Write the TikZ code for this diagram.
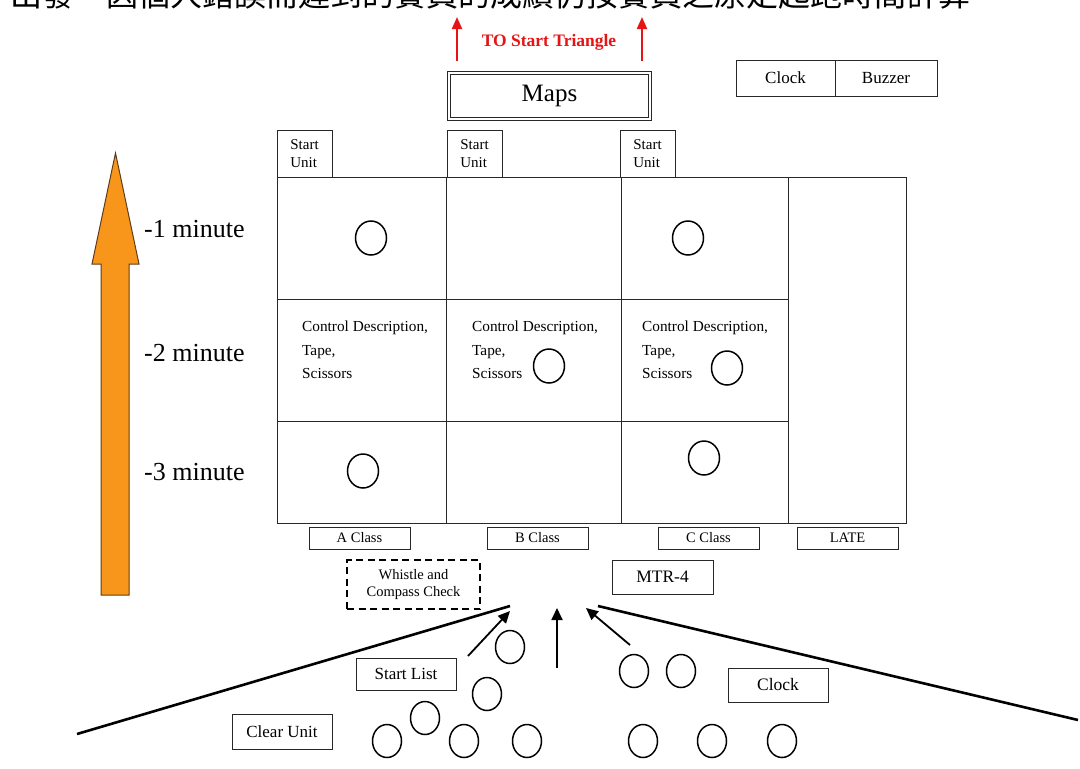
\documentclass[tikz,border=0pt]{standalone}
\usepackage{fontspec}
\setmainfont{Liberation Serif}
\newfontfamily\cjk{Noto Sans CJK TC}
\usetikzlibrary{arrows.meta}
\definecolor{redarrow}{RGB}{230,20,20}
\definecolor{orangefill}{RGB}{248,150,28}
\definecolor{orangeedge}{RGB}{95,60,25}
\definecolor{linegray}{RGB}{40,40,40}
\tikzset{
  box/.style={draw=linegray, line width=0.9pt, inner sep=0pt, align=center},
  gridline/.style={draw=linegray, line width=0.9pt},
  person/.style={draw=black, line width=1.5pt},
  funnel/.style={draw=black, line width=2.6pt},
  flowarrow/.style={draw=black, line width=1.8pt, -{Triangle[length=12pt,width=11pt]}},
  redup/.style={draw=redarrow, line width=2pt, -{Triangle[length=12pt,width=10pt]}},
  fs/.style={font=\fontsize{#1}{#1}\selectfont}
}
\begin{document}
\begin{tikzpicture}[x=1pt,y=-1pt]
\useasboundingbox (0,0) rectangle (1080,769);
\fill[white] (0,0) rectangle (1080,769);

% clipped Chinese header
\node[anchor=base west, inner sep=0pt, font=\cjk\fontsize{32}{32}\selectfont] (header) at (10,6.5) {出發－因個人錯誤而遲到的賽員的成績仍按賽員之原定起跑時間計算};

% red arrows and label
\coordinate (r1s) at (457,61); \coordinate (r1e) at (457,17);
\coordinate (r2s) at (642,61); \coordinate (r2e) at (642,17);
\draw[redup] (r1s) -- (r1e);
\draw[redup] (r2s) -- (r2e);
\node[text=redarrow, font=\bfseries\fontsize{17.5}{17.5}\selectfont, inner sep=0pt] (tostart) at (549,42) {TO Start Triangle};

% Maps
\node[draw=linegray, line width=1pt, double, double distance=2.2pt, minimum width=201pt, minimum height=46pt, inner sep=0pt, fs=25] (maps) at (549.5,96) {Maps};

% Clock | Buzzer
\node[box, minimum width=99pt, minimum height=36pt, fs=17] (clocktop) at (785.5,78) {Clock};
\node[box, minimum width=102pt, minimum height=36pt, fs=17] (buzzer) at (886,78) {Buzzer};

% Start Unit boxes
\node[box, minimum width=55pt, minimum height=47pt, align=left, font=\fontsize{15}{18}\selectfont] (su1) at (304.5,153.5) {Start\\Unit};
\node[box, minimum width=55pt, minimum height=47pt, align=left, font=\fontsize{15}{18}\selectfont] (su2) at (474.5,153.5) {Start\\Unit};
\node[box, minimum width=55pt, minimum height=47pt, align=left, font=\fontsize{15}{18}\selectfont] (su3) at (647.5,153.5) {Start\\Unit};

% grid
\draw[gridline] (277,177) rectangle (906,523);
\draw[gridline] (446,177) -- (446,523);
\draw[gridline] (621,177) -- (621,523);
\draw[gridline] (788,177) -- (788,523);
\draw[gridline] (277,299) -- (788,299);
\draw[gridline] (277,421) -- (788,421);

% circles in grid
\draw[person] (371,238) ellipse (15.5pt and 17pt);
\draw[person] (688,238) ellipse (15.5pt and 17pt);
\draw[person] (549,366) ellipse (15.5pt and 17pt);
\draw[person] (727,368) ellipse (15.5pt and 17pt);
\draw[person] (363,471) ellipse (15.5pt and 17pt);
\draw[person] (704,458) ellipse (15.5pt and 17pt);

% middle row texts
\node[anchor=north west, inner sep=0pt, align=left, font=\fontsize{15.3}{23.5}\selectfont] (cd1) at (302,321) {Control Description,\\Tape,\\Scissors};
\node[anchor=north west, inner sep=0pt, align=left, font=\fontsize{15.3}{23.5}\selectfont] (cd2) at (472,321) {Control Description,\\Tape,\\Scissors};
\node[anchor=north west, inner sep=0pt, align=left, font=\fontsize{15.3}{23.5}\selectfont] (cd3) at (642,321) {Control Description,\\Tape,\\Scissors};

% minute labels
\node[anchor=west, inner sep=0pt, fs=26] (m1) at (144,229) {-1 minute};
\node[anchor=west, inner sep=0pt, fs=26] (m2) at (144,353) {-2 minute};
\node[anchor=west, inner sep=0pt, fs=26] (m3) at (144,472) {-3 minute};

% orange arrow
\draw[fill=orangefill, draw=orangeedge, line width=1pt, line join=miter]
  (101,595) -- (101,264) -- (92,264) -- (115.5,153) -- (139,264) -- (129,264) -- (129,595) -- cycle;

% class labels
\node[box, minimum width=101pt, minimum height=22pt, fs=14.5] (aclass) at (359.5,538) {A Class};
\node[box, minimum width=101pt, minimum height=22pt, fs=14.5] (bclass) at (537.5,538) {B Class};
\node[box, minimum width=101pt, minimum height=22pt, fs=14.5] (cclass) at (708.5,538) {C Class};
\node[box, minimum width=101pt, minimum height=22pt, fs=14.5] (late) at (847.5,538) {LATE};

% whistle and compass check
\node[draw=black, line width=1.8pt, dash pattern=on 7pt off 4.5pt, minimum width=133pt, minimum height=49pt, inner sep=0pt, align=center, font=\fontsize{14.5}{17}\selectfont] (whistle) at (413.5,584.5) {Whistle and\\Compass Check};

% MTR-4
\node[box, minimum width=101pt, minimum height=34pt, fs=17.5] (mtr) at (662.5,577) {MTR-4};

% funnel lines
\coordinate (fl1) at (77,734); \coordinate (fl2) at (510,606);
\coordinate (fr1) at (598,606); \coordinate (fr2) at (1078,720);
\draw[funnel] (fl1) -- (fl2);
\draw[funnel] (fr1) -- (fr2);

% flow arrows
\coordinate (a1s) at (468,656); \coordinate (a1e) at (510,611);
\coordinate (a2s) at (557,668); \coordinate (a2e) at (557,608);
\coordinate (a3s) at (630,645); \coordinate (a3e) at (586,608);
\draw[flowarrow] (a1s) -- (a1e);
\draw[flowarrow] (a2s) -- (a2e);
\draw[flowarrow] (a3s) -- (a3e);

% bottom boxes
\node[box, minimum width=100pt, minimum height=32pt, fs=17] (startlist) at (406,674) {Start List};
\node[box, minimum width=100pt, minimum height=35pt, fs=17] (clearunit) at (282,731.5) {Clear Unit};
\node[box, minimum width=100pt, minimum height=34pt, fs=17.5] (clockb) at (778,685) {Clock};

% people
\foreach \px/\py in {510/647, 487/694, 425/718, 387/741, 464/741, 527/741, 634/671, 681/671, 643/741, 712/741, 782/741}
  \draw[person] (\px,\py) ellipse (14.5pt and 16.5pt);
\end{tikzpicture}
\end{document}
